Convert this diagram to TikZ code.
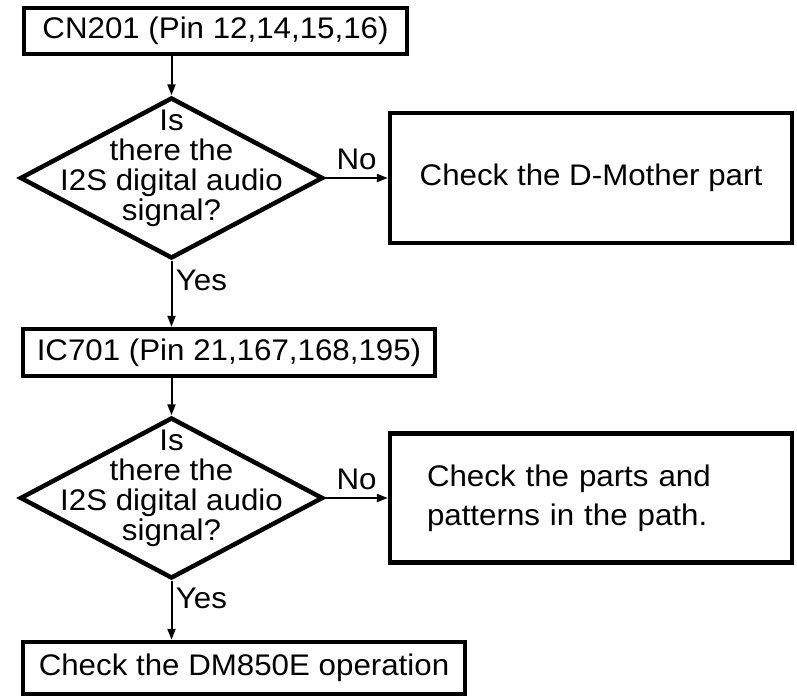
\documentclass[tikz,border=0pt]{standalone}
\usepackage{fontspec}
\setmainfont[FakeStretch=1.05]{Liberation Sans}
\usetikzlibrary{positioning,shapes.geometric,arrows.meta}

\begin{document}
\begin{tikzpicture}[x=1pt,y=-1pt,>={Triangle[length=11pt,width=8pt]},on grid,
   font=\fontsize{29.8}{30}\selectfont,
   box/.style={draw,line width=4.5pt,inner sep=0pt,minimum height=47pt},
   ask/.style={draw,diamond,line width=4.5pt,inner sep=0pt,minimum width=303pt,minimum height=161pt},
   asktext/.style={align=center,inner sep=0pt},
   flow/.style={->,line width=2pt}]
 \useasboundingbox (0,0) rectangle (797,696);
 \node[ask] (q1) at (171.5,178) {};
 \node[asktext] (t1) at ([yshift=10pt]q1.center) {Is\\there the\\I2S digital audio\\signal?};
 \node[box,minimum width=383pt,minimum height=46pt] (b1) [above right=147pt and 44pt of q1] {CN201 (Pin 12,14,15,16)};
 \node[box,minimum width=402pt,minimum height=130pt] (r1) [right=419.5pt of q1] {Check the D-Mother part};
 \node[box,minimum width=412pt] (b3) [below right=174.5pt and 57.5pt of q1] {IC701 (Pin 21,167,168,195)};
 \node[ask] (q2) [below=320pt of q1] {};
 \node[asktext] (t2) at ([yshift=10pt]q2.center) {Is\\there the\\I2S digital audio\\signal?};
 \node[box,minimum height=129pt,text width=328pt,inner xsep=37pt,align=left,
   font=\fontsize{29.8}{39}\selectfont] (r2) [right=419.5pt of q2]
   {Check the parts and\\patterns in the path.};
 \node[box,minimum width=442pt,minimum height=52pt] (b5) [below right=170pt and 72.5pt of q2] {Check the DM850E operation};
 \draw[flow] (b1.south -| q1.north) -- (q1.north);
 \draw[flow] (q1.east) -- node[above=4pt] {No} (r1.west);
 \draw[flow] (q1.south) -- node[right,pos=0.3] {Yes} (b3.north -| q1.south);
 \draw[flow] (b3.south -| q2.north) -- (q2.north);
 \draw[flow] (q2.east) -- node[above=4pt] {No} (r2.west);
 \draw[flow] (q2.south) -- node[right,pos=0.3] {Yes} (b5.north -| q2.south);
\end{tikzpicture}
\end{document}
